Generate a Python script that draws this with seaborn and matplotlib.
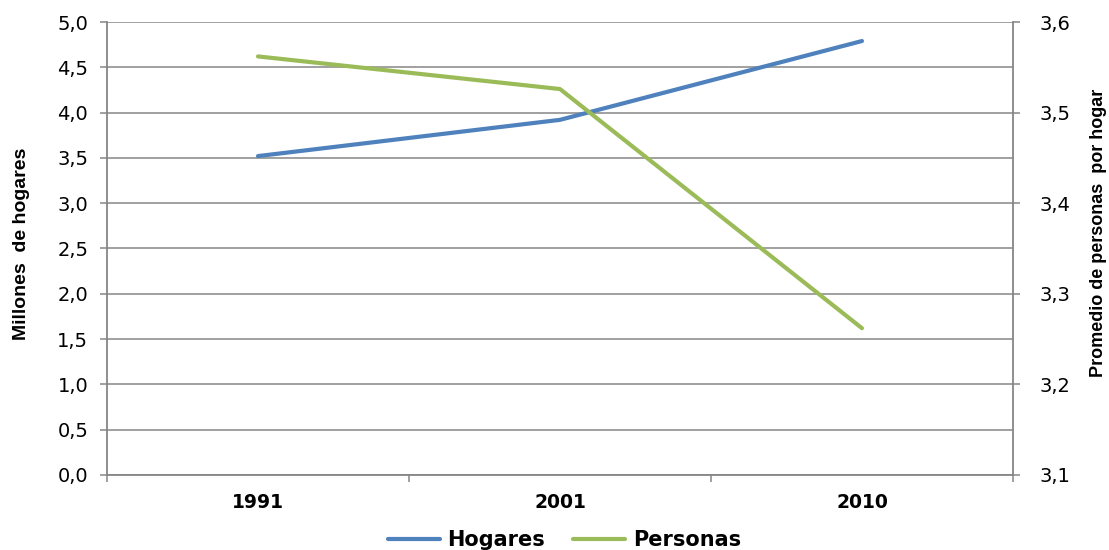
import matplotlib
matplotlib.use("Agg")
import matplotlib.pyplot as plt
import seaborn as sns
import pandas as pd
from matplotlib.ticker import FuncFormatter, FixedLocator
from matplotlib.lines import Line2D

# Data
years = ["1991", "2001", "2010"]
hogares = [3.52, 3.92, 4.79]          # millones de hogares (left axis)
personas = [3.562, 3.526, 3.262]      # promedio de personas por hogar (right axis)

left_ticks = [0.0, 0.5, 1.0, 1.5, 2.0, 2.5, 3.0, 3.5, 4.0, 4.5, 5.0]
right_ticks = [3.1, 3.2, 3.3, 3.4, 3.5, 3.6]

blue = "#4F81BD"
green = "#9BBB59"
gray = "#868686"

sns.set_theme(style="white")
plt.rcParams["font.family"] = ["DejaVu Sans"]
plt.rcParams["text.color"] = "black"
plt.rcParams["axes.labelcolor"] = "black"
plt.rcParams["xtick.color"] = "black"
plt.rcParams["ytick.color"] = "black"

fig = plt.figure(figsize=(11.09, 5.5), dpi=100)
ax = fig.add_axes([0.0965, 0.1364, 0.8169, 0.8236])
ax2 = ax.twinx()

df1 = pd.DataFrame({"year": years, "value": hogares})
df2 = pd.DataFrame({"year": years, "value": personas})
sns.lineplot(data=df1, x="year", y="value", ax=ax, color=blue, linewidth=3.0,
             sort=False, legend=False)
sns.lineplot(data=df2, x="year", y="value", ax=ax2, color=green, linewidth=3.0,
             sort=False, legend=False)
for l in ax.lines + ax2.lines:
    l.set_solid_capstyle("round")

ax.set_xlim(-0.5, 2.5)
ax.set_ylim(0, 5.0)
ax2.set_ylim(3.1, 3.6)
ax.set_yticks(left_ticks)
ax2.set_yticks(right_ticks)

comma = lambda fmt: FuncFormatter(lambda v, p: (fmt % v).replace(".", ","))
ax.yaxis.set_major_formatter(comma("%.1f"))
ax2.yaxis.set_major_formatter(comma("%.1f"))

ax.set_axisbelow(True)
ax.yaxis.grid(True, color=gray, linewidth=1.1)
ax.xaxis.grid(False)
ax2.grid(False)

for a in (ax, ax2):
    for s in a.spines.values():
        s.set_visible(False)
for a, side in ((ax, "left"), (ax, "bottom"), (ax2, "right")):
    a.spines[side].set_visible(True)
    a.spines[side].set_color(gray)
    a.spines[side].set_linewidth(1.3)

ax.tick_params(axis="y", which="major", left=True, length=5, width=1.1, color=gray,
               labelsize=14, labelcolor="black", pad=8.5)
ax2.tick_params(axis="y", which="major", right=True, length=5, width=1.1, color=gray,
                labelsize=14, labelcolor="black", pad=14)
ax.tick_params(axis="x", which="major", bottom=False, length=0, labelsize=13.5,
               labelcolor="black", pad=13)
ax.xaxis.set_minor_locator(FixedLocator([-0.5, 0.5, 1.5, 2.5]))
ax.tick_params(axis="x", which="minor", bottom=True, length=5, width=1.1, color=gray)
for t in ax.get_xticklabels():
    t.set_fontweight("bold")

ax.set_xlabel("")
ax.set_ylabel("Millones  de hogares", fontsize=14, fontweight="bold",
              family="Liberation Sans", color="black")
ax.yaxis.set_label_coords(-0.085, 0.51)
ax2.set_ylabel("Promedio de personas  por hogar", fontsize=13, fontweight="bold",
               family="Liberation Sans", color="black")
ax2.yaxis.set_label_coords(1.085, 0.534)

handles = [Line2D([0], [0], color=blue, linewidth=3.0, solid_capstyle="round"),
           Line2D([0], [0], color=green, linewidth=3.0, solid_capstyle="round")]
fig.legend(handles, ["Hogares", "Personas"], loc="center", bbox_to_anchor=(0.509, 0.018),
           ncol=2, frameon=False, handlelength=2.5, handletextpad=0.35, columnspacing=1.35,
           borderpad=0, prop={"size": 15, "weight": "bold"}, labelcolor="black")

fig.savefig("out.png", dpi=100)
